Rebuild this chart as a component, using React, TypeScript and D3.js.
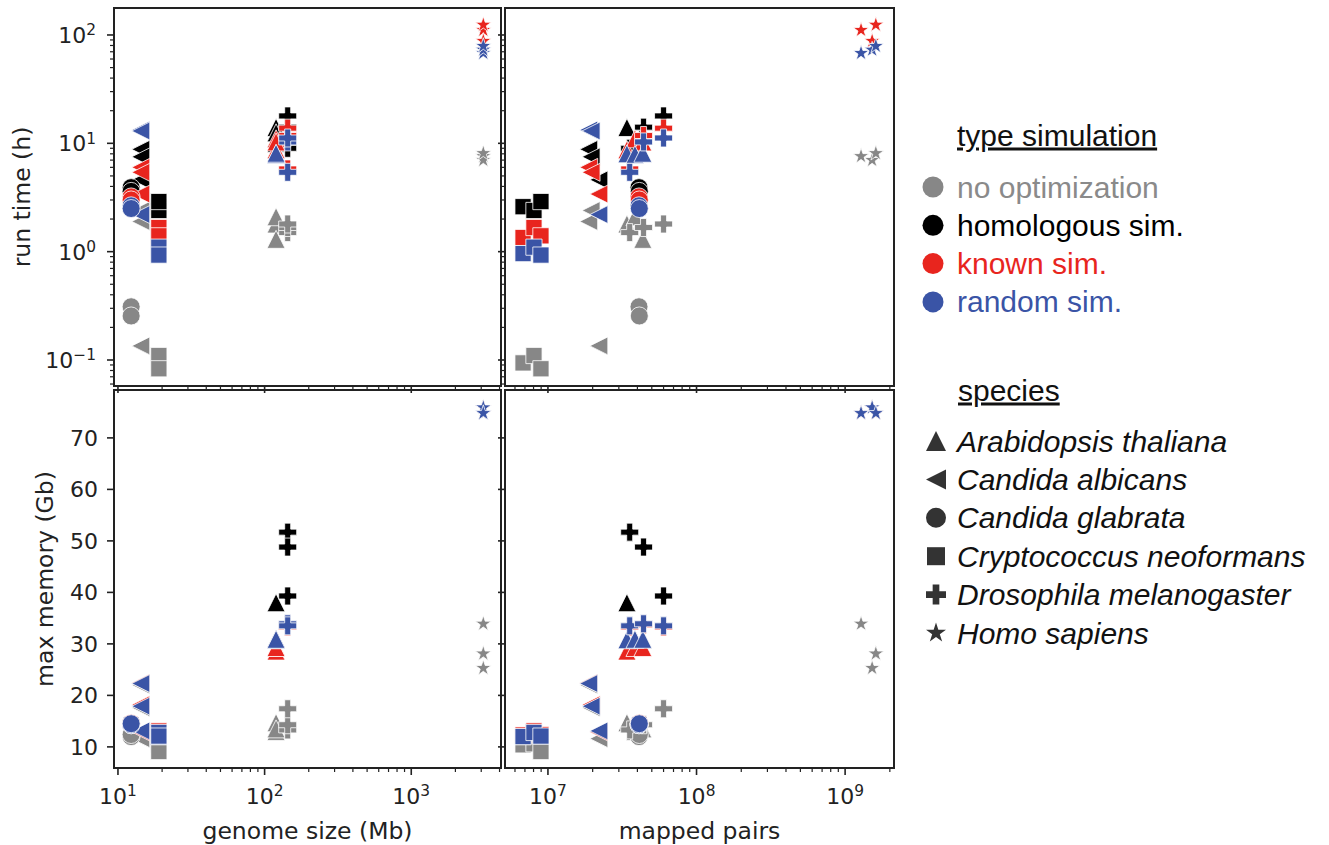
import * as d3 from 'd3'

const speciesNames = ['Arabidopsis thaliana', 'Candida albicans', 'Candida glabrata', 'Cryptococcus neoformans', 'Drosophila melanogaster', 'Homo sapiens']
const speciesShapes = ['^', '<', 'o', 's', 'P', '*']
const genomeSize = [119.7, 14.3, 12.3, 19.0, 143.7, 3100] // Mb, per species

const typeNames = ['no optimization', 'homologous sim.', 'known sim.', 'random sim.']
const typeColors = ['#878787', '#000000', '#e8251e', '#3a54a6']

// one entry per sample
const sampleSpecies = [0, 0, 0, 1, 1, 1, 2, 2, 3, 3, 3, 4, 4, 4, 5, 5, 5]
const mappedPairs = [3.4e7, 3.85e7, 4.35e7, 1.88e7, 1.95e7, 2.2e7, 4.1e7, 4.12e7, 6.8e6, 8.05e6, 8.97e6, 3.55e7, 4.4e7, 6.0e7, 1.28e9, 1.52e9, 1.61e9]

// run time (h)
const timeNoOpt = [1.8, 2.1, 1.3, 1.9, 2.4, 0.135, 0.31, 0.255, 0.094, 0.11, 0.083, 1.5, 1.67, 1.8, 7.6, 7.0, 8.1]
const timeHomol = [14.0, 10.0, 12.5, 8.8, 7.5, 4.6, 3.9, 3.6, 2.6, 2.4, 2.9, 9.0, 14.1, 17.9, null, null, null]
const timeKnown = [8.7, 11.0, 10.3, 6.0, 5.4, 3.4, 3.2, 3.0, 1.35, 1.67, 1.4, 5.8, 11.8, 13.8, 111, 88, 124]
const timeRandom = [8.0, 7.9, 8.1, 13.3, 13.0, 2.2, 2.65, 2.5, 0.96, 1.1, 0.93, 5.4, 10.3, 11.2, 68, 73, 79]

// max memory (Gb)
const memNoOpt = [14.7, 13.0, 13.5, 22.0, 17.6, 11.6, 12.0, 12.4, 10.4, 10.6, 9.1, 13.3, 14.3, 17.4, 33.9, 25.3, 28.1]
const memHomol = [38.0, 30.9, 30.9, 22.3, 18.0, 13.0, 14.3, 14.5, 12.0, 12.8, 12.1, 51.7, 48.8, 39.3, null, null, null]
const memKnown = [28.6, 29.3, 29.3, 22.4, 18.2, 12.9, 14.4, 14.6, 12.3, 13.1, 12.4, 33.3, 33.7, 33.3, 74.8, 75.9, 74.8]
const memRandom = [30.8, 30.9, 30.9, 22.3, 17.9, 13.1, 14.3, 14.5, 12.0, 12.8, 12.1, 33.5, 33.9, 33.5, 74.8, 75.9, 74.8]

const timeByType = [timeNoOpt, timeHomol, timeKnown, timeRandom]
const memByType = [memNoOpt, memHomol, memKnown, memRandom]

const TICK_FONT = 'DejaVu Sans, sans-serif'
const LEG_FONT = 'Liberation Sans, Arial, sans-serif'
const TICK_SIZE = 22

// matplotlib-like marker paths, m = marker size in px
function markerPath(shape: string, m: number) {
  const h = m / 2
  if (shape === 'o') {
    const pth = d3.path()
    pth.arc(0, 0, h, 0, 2 * Math.PI)
    pth.closePath()
    return pth.toString()
  }
  if (shape === 's') return `M${-h * 0.9},${-h * 0.9}H${h * 0.9}V${h * 0.9}H${-h * 0.9}Z`
  if (shape === '^') return `M0,${-h}L${h},${h}L${-h},${h}Z`
  if (shape === '<') return `M${-h},0L${h},${-h}L${h},${h}Z`
  if (shape === 'P') {
    const u = m / 6
    const pts = [[-1, -3], [1, -3], [1, -1], [3, -1], [3, 1], [1, 1], [1, 3], [-1, 3], [-1, 1], [-3, 1], [-3, -1], [-1, -1]]
    return 'M' + pts.map(p => `${p[0] * u},${p[1] * u}`).join('L') + 'Z'
  }
  // star
  const pts: string[] = []
  for (let i = 0; i < 10; i++) {
    const r = i % 2 === 0 ? h * 1.05 : h * 1.05 * 0.381966
    const a = -Math.PI / 2 + (i * Math.PI) / 5
    pts.push(`${r * Math.cos(a)},${r * Math.sin(a)}`)
  }
  return 'M' + pts.join('L') + 'Z'
}

function logTicks(domain: number[]) {
  const [a, b] = domain
  const major: number[] = []
  const minor: number[] = []
  for (let e = Math.floor(Math.log10(a)); e <= Math.ceil(Math.log10(b)); e++) {
    for (let k = 1; k < 10; k++) {
      const v = k * Math.pow(10, e)
      if (v < a || v > b) continue
      if (k === 1) major.push(v)
      else minor.push(v)
    }
  }
  return { major, minor }
}

function PowLabel({ v, x, y, anchor }: { v: number; x: number; y: number; anchor: string }) {
  const e = Math.round(Math.log10(v))
  return (
    <text x={x} y={y} textAnchor={anchor} fontFamily={TICK_FONT} fontSize={TICK_SIZE} fill="#222">
      10<tspan dy="-0.5em" fontSize="0.7em">{e < 0 ? '\u2212' + Math.abs(e) : e}</tspan>
    </text>
  )
}

const mTime = [-1.24, 2.249]
const box = { L: 114, M: 501, R2: 505, R: 894, T: 8, B1: 386, T2: 390, B2: 768 }

export default function App() {
  const xGenome = d3.scaleLog().domain([Math.pow(10, 0.973), Math.pow(10, 3.612)]).range([box.L, box.M])
  const xPairs = d3.scaleLog().domain([Math.pow(10, 6.711), Math.pow(10, 9.329)]).range([box.R2, box.R])
  const yTime = d3.scaleLog().domain([Math.pow(10, mTime[0]), Math.pow(10, mTime[1])]).range([box.B1, box.T])
  const yMem = d3.scaleLinear().domain([5.9, 79.3]).range([box.B2, box.T2])

  const panels = [
    { x: xGenome, y: yTime, x0: box.L, x1: box.M, y0: box.T, y1: box.B1, data: timeByType, xLab: false, yLab: true, xKey: 'g' },
    { x: xPairs, y: yTime, x0: box.R2, x1: box.R, y0: box.T, y1: box.B1, data: timeByType, xLab: false, yLab: false, xKey: 'p' },
    { x: xGenome, y: yMem, x0: box.L, x1: box.M, y0: box.T2, y1: box.B2, data: memByType, xLab: true, yLab: true, xKey: 'g' },
    { x: xPairs, y: yMem, x0: box.R2, x1: box.R, y0: box.T2, y1: box.B2, data: memByType, xLab: true, yLab: false, xKey: 'p' },
  ]

  const sz = 18

  return (
    <svg width={1329} height={845} style={{ position: 'absolute', left: 0, top: 0, background: '#fff' }}>
      {panels.map((p, pi) => {
        const xt = logTicks(p.x.domain())
        const isLogY = p.y === yTime
        const yt = isLogY ? logTicks(p.y.domain()) : { major: [10, 20, 30, 40, 50, 60, 70], minor: [] as number[] }
        return (
          <g key={pi}>
            {/* points */}
            {p.data.map((vals, ti) =>
              vals.map((v, si) => {
                if (v == null) return null
                const sp = sampleSpecies[si]
                const xv = p.xKey === 'g' ? genomeSize[sp] : mappedPairs[si]
                return (
                  <path key={`${ti}-${si}`} d={markerPath(speciesShapes[sp], sp === 5 ? 16 : sz)}
                    transform={`translate(${p.x(xv)},${p.y(v as number)})`}
                    fill={typeColors[ti]} stroke="#fff" strokeWidth={0.8} />
                )
              })
            )}
            <rect x={p.x0} y={p.y0} width={p.x1 - p.x0} height={p.y1 - p.y0} fill="none" stroke="#222" strokeWidth={2} />
            {/* x ticks */}
            {xt.major.map(v => <line key={'xM' + v} x1={p.x(v)} x2={p.x(v)} y1={p.y1} y2={p.y1 + 7} stroke="#222" strokeWidth={1.6} />)}
            {xt.minor.map(v => <line key={'xm' + v} x1={p.x(v)} x2={p.x(v)} y1={p.y1} y2={p.y1 + 4} stroke="#222" strokeWidth={1.2} />)}
            {p.xLab && xt.major.map(v => <PowLabel key={'xl' + v} v={v} x={p.x(v)} y={804} anchor="middle" />)}
            {/* y ticks */}
            {yt.major.map(v => <line key={'yM' + v} x1={p.x0 - 7} x2={p.x0} y1={p.y(v)} y2={p.y(v)} stroke="#222" strokeWidth={1.6} />)}
            {yt.minor.map(v => <line key={'ym' + v} x1={p.x0 - 4} x2={p.x0} y1={p.y(v)} y2={p.y(v)} stroke="#222" strokeWidth={1.2} />)}
            {p.yLab && yt.major.map(v => isLogY
              ? <PowLabel key={'yl' + v} v={v} x={96} y={p.y(v) + 8} anchor="end" />
              : <text key={'yl' + v} x={98} y={p.y(v) + 8} textAnchor="end" fontFamily={TICK_FONT} fontSize={TICK_SIZE} fill="#222">{v}</text>
            )}
          </g>
        )
      })}

      {/* axis labels */}
      <text transform="translate(22,197) rotate(-90)" textAnchor="middle" dy="0.35em" fontFamily={TICK_FONT} fontSize={23.5} fill="#222">run time (h)</text>
      <text transform="translate(45,579) rotate(-90)" textAnchor="middle" dy="0.35em" fontFamily={TICK_FONT} fontSize={23.5} fill="#222">max memory (Gb)</text>
      <text x={(box.L + box.M) / 2} y={831} textAnchor="middle" dy="0.35em" fontFamily={TICK_FONT} fontSize={23.5} fill="#222">genome size (Mb)</text>
      <text x={(box.R2 + box.R) / 2} y={831} textAnchor="middle" dy="0.35em" fontFamily={TICK_FONT} fontSize={23.5} fill="#222">mapped pairs</text>

      {/* legend: simulation type */}
      <text x={957} y={135} dy="0.35em" fontFamily={LEG_FONT} fontSize={30} fill="#111" textDecoration="underline">type simulation</text>
      {typeNames.map((t, i) => (
        <g key={t}>
          <circle cx={933} cy={187 + i * 38.3} r={10.5} fill={typeColors[i]} />
          <text x={957} y={187 + i * 38.3} dy="0.35em" fontFamily={LEG_FONT} fontSize={30} fill={i === 0 ? '#8a8a8a' : typeColors[i]}>{t}</text>
        </g>
      ))}

      {/* legend: species */}
      <text x={958} y={390} dy="0.35em" fontFamily={LEG_FONT} fontSize={30} fill="#111" textDecoration="underline">species</text>
      {speciesNames.map((s, i) => (
        <g key={s}>
          <path d={markerPath(speciesShapes[i], 20)} transform={`translate(936,${441 + i * 38.4})`} fill="#333" />
          <text x={957} y={441 + i * 38.4} dy="0.35em" fontFamily={LEG_FONT} fontSize={30} fontStyle="italic" fill="#111">{s}</text>
        </g>
      ))}
    </svg>
  )
}
